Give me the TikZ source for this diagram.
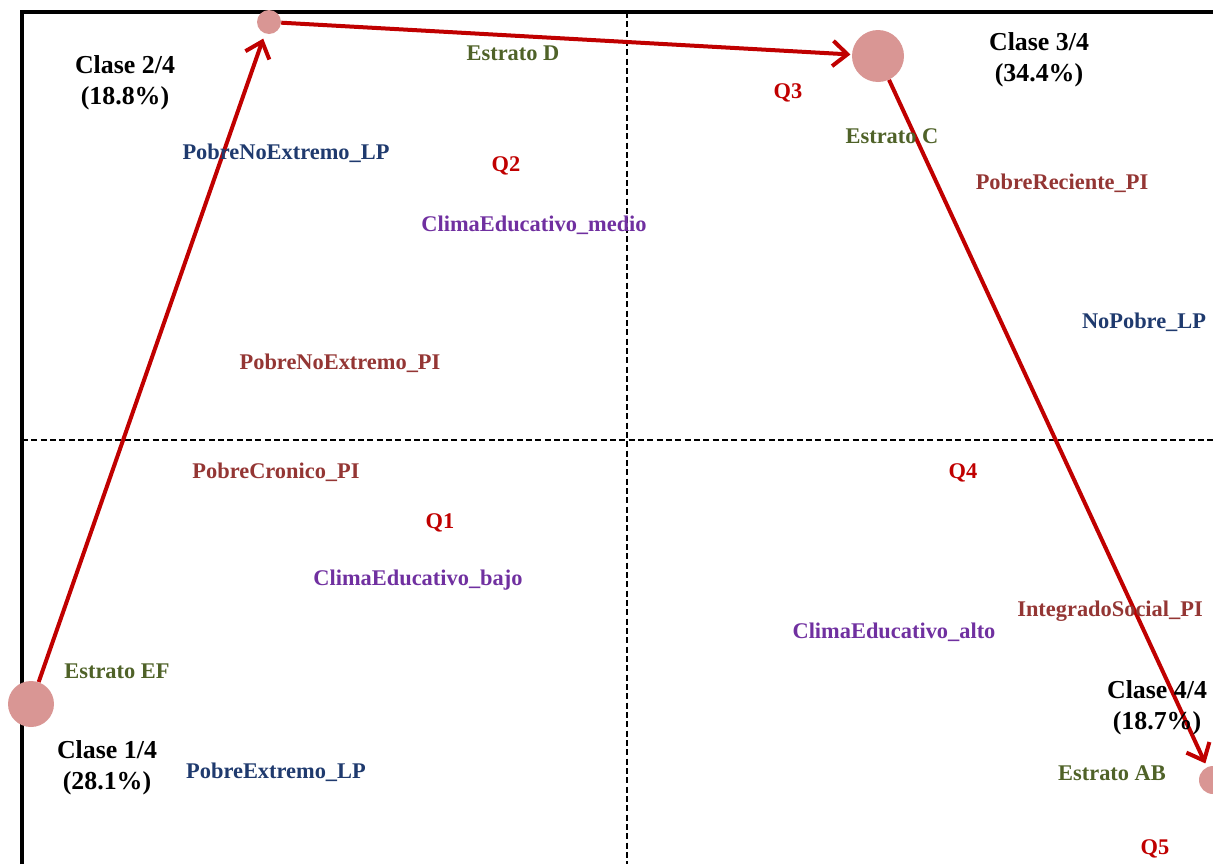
\documentclass[tikz,border=0pt]{standalone}
\usepackage{fontspec}
\setmainfont{Liberation Serif}
\usetikzlibrary{arrows.meta}
\definecolor{olivec}{HTML}{4F6228}
\definecolor{navyc}{HTML}{1F3A6E}
\definecolor{purplec}{HTML}{7030A0}
\definecolor{brownc}{HTML}{943634}
\definecolor{qred}{HTML}{C00000}
\definecolor{dotc}{HTML}{D99694}
\tikzset{
  lbl/.style={inner sep=0pt, font=\fontsize{16.8}{18}\selectfont\bfseries},
  est/.style={lbl, text=olivec},
  lp/.style={lbl, text=navyc},
  pi/.style={lbl, text=brownc},
  clima/.style={lbl, text=purplec},
  qq/.style={lbl, text=qred},
  clase/.style={inner sep=0pt, align=center, font=\fontsize{19.4}{23}\selectfont\bfseries, text=black},
  dot/.style={circle, fill=dotc, inner sep=0pt, draw=none},
  traj/.style={draw=qred, line width=3pt, -{Straight Barb[length=11pt,width=19pt,line width=3pt]}},
  axis/.style={black, line width=1pt, dash pattern=on 4.5pt off 2.5pt},
  frame/.style={black, line width=2.3pt}
}
\begin{document}
\begin{tikzpicture}[x=0.75pt,y=-0.75pt]
\useasboundingbox (0,0) rectangle (1213,864);
\clip (0,0) rectangle (1213,864);
% axes
\draw[axis] (627,12) -- (627,864);
\draw[axis] (22,440) -- (1213,440);
% frame
\draw[frame] (22,864) -- (22,12) -- (1213,12);
% class points
\node[dot, minimum size=46*0.75pt] (c1) at (31,704) {};
\node[dot, minimum size=24*0.75pt] (c2) at (269,22) {};
\node[dot, minimum size=52*0.75pt] (c3) at (878,56) {};
\node[dot, minimum size=28*0.75pt] (c4) at (1213,780) {};
% trajectory
\draw[traj, shorten >=4pt] (c1) -- (c2);
\draw[traj, shorten >=1pt] (c2) -- (c3);
\draw[traj, shorten >=3pt] (c3) -- (c4);
% class labels
\node[clase] (k2) at (125,83) {Clase 2/4\\(18.8\%)};
\node[clase] (k3) at (1039,60) {Clase 3/4\\(34.4\%)};
\node[clase] (k4) at (1157,708) {Clase 4/4\\(18.7\%)};
\node[clase] (k1) at (107,768) {Clase 1/4\\(28.1\%)};
% category labels
\node[est] (eD) at (513,53) {Estrato D};
\node[est] (eC) at (892,136) {Estrato C};
\node[est] (eEF) at (117,671) {Estrato EF};
\node[est] (eAB) at (1112,773) {Estrato AB};
\node[qq] (q1) at (440,523) {Q1};
\node[qq] (q2) at (506,166) {Q2};
\node[qq] (q3) at (788,93) {Q3};
\node[qq] (q4) at (963,473) {Q4};
\node[qq] (q5) at (1155,849) {Q5};
\node[lp] (pnelp) at (286,153) {PobreNoExtremo\_LP};
\node[lp] (nplp) at (1144,322) {NoPobre\_LP};
\node[lp] (pelp) at (276,772) {PobreExtremo\_LP};
\node[pi] (prpi) at (1062,183) {PobreReciente\_PI};
\node[pi] (pnepi) at (340,363) {PobreNoExtremo\_PI};
\node[pi] (pcpi) at (276,472) {PobreCronico\_PI};
\node[pi] (ispi) at (1110,611) {IntegradoSocial\_PI};
\node[clima] (cem) at (534,225) {ClimaEducativo\_medio};
\node[clima] (ceb) at (418,580) {ClimaEducativo\_bajo};
\node[clima] (cea) at (894,632) {ClimaEducativo\_alto};
\end{tikzpicture}
\end{document}
